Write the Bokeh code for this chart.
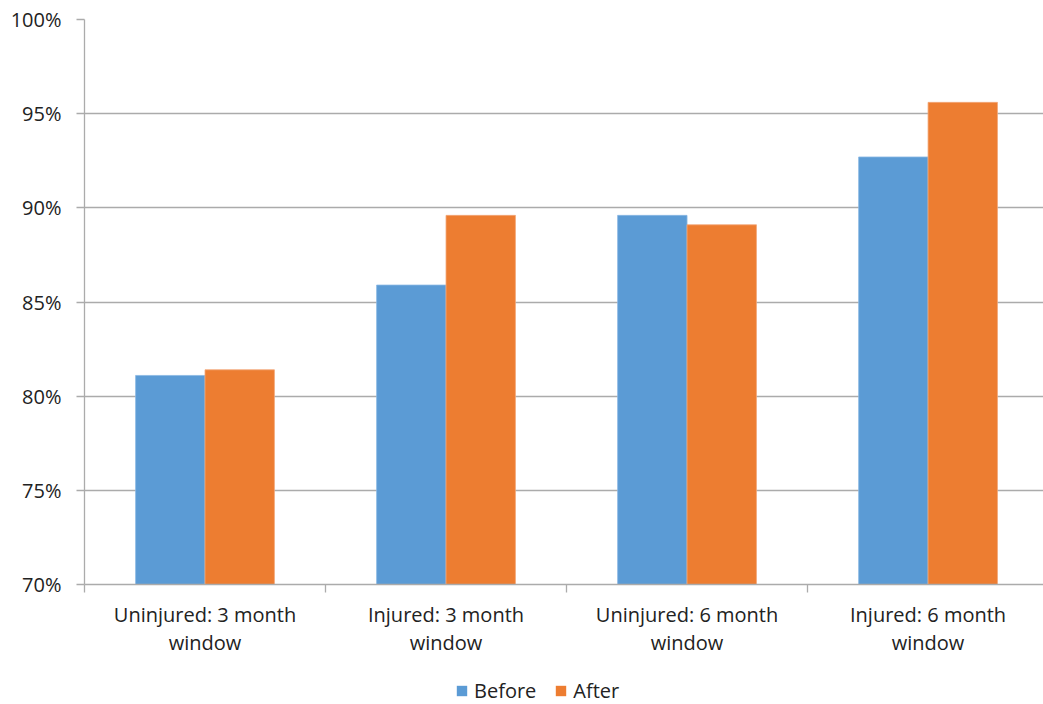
from bokeh.plotting import figure
from bokeh.models import (ColumnDataSource, FixedTicker, NumeralTickFormatter,
                          Range1d, Legend, LegendItem)
from bokeh.layouts import column
from bokeh.embed import file_html
from bokeh.resources import INLINE

categories = ["Uninjured: 3 month\nwindow", "Injured: 3 month\nwindow",
              "Uninjured: 6 month\nwindow", "Injured: 6 month\nwindow"]
before = [0.811, 0.859, 0.896, 0.927]
after = [0.814, 0.896, 0.891, 0.956]
series_names = ["Before", "After"]
y_ticks = [0.70, 0.75, 0.80, 0.85, 0.90, 0.95, 1.00]

BLUE = "#5b9bd5"
ORANGE = "#ed7d31"
GRID = "#ababab"
TEXT = "#222222"
FONT = "Open Sans"

n = len(categories)
centers = [i + 0.5 for i in range(n)]
bw = 0.288

src_b = ColumnDataSource(dict(x=[c - bw / 2 for c in centers], top=before))
src_a = ColumnDataSource(dict(x=[c + bw / 2 for c in centers], top=after))

p = figure(frame_width=959, frame_height=565, output_backend="svg",
           toolbar_location=None,
           x_range=Range1d(0, 3.979), y_range=Range1d(0.70, 1.00),
           min_border_left=84, min_border_right=0, min_border_top=19,
           min_border_bottom=76)
p.outline_line_color = None
p.background_fill_color = "white"
p.border_fill_color = "white"

p.vbar(x="x", top="top", bottom=0.70, width=bw, source=src_b,
       fill_color=BLUE, line_color="#8ab8e3", line_width=0.8)
p.vbar(x="x", top="top", bottom=0.70, width=bw, source=src_a,
       fill_color=ORANGE, line_color="#f3a779", line_width=0.8)

# y axis
p.yaxis.ticker = FixedTicker(ticks=y_ticks)
p.yaxis.formatter = NumeralTickFormatter(format="0%")
p.yaxis.axis_line_color = GRID
p.yaxis.axis_line_width = 1.3
p.yaxis.major_tick_line_color = GRID
p.yaxis.major_tick_line_width = 1.3
p.yaxis.major_tick_out = 8
p.yaxis.major_tick_in = 0
p.yaxis.minor_tick_line_color = None
p.yaxis.major_label_standoff = 15
p.yaxis.major_label_text_font = FONT
p.yaxis.major_label_text_font_size = "20px"
p.yaxis.major_label_text_color = TEXT

p.ygrid.ticker = FixedTicker(ticks=y_ticks)
p.ygrid.grid_line_color = GRID
p.ygrid.grid_line_width = 1.3
p.xgrid.grid_line_color = None

# x axis
p.xaxis.ticker = FixedTicker(ticks=centers, minor_ticks=[0, 1, 2, 3, 4])
p.xaxis.major_label_overrides = {c: lab for c, lab in zip(centers, categories)}
p.xaxis.axis_line_color = GRID
p.xaxis.axis_line_width = 1.3
p.xaxis.major_tick_line_color = None
p.xaxis.major_tick_out = 0
p.xaxis.major_tick_in = 0
p.xaxis.minor_tick_line_color = GRID
p.xaxis.minor_tick_line_width = 1.3
p.xaxis.minor_tick_out = 8
p.xaxis.minor_tick_in = 0
p.xaxis.major_label_standoff = 8
p.xaxis.major_label_text_font = FONT
p.xaxis.major_label_text_font_size = "20px"
p.xaxis.major_label_text_color = TEXT
p.xaxis.major_label_text_line_height = 1.05

# legend strip
lg = figure(width=1043, height=44, output_backend="svg", toolbar_location=None,
            x_range=Range1d(0, 1), y_range=Range1d(0, 1),
            min_border_left=0, min_border_right=0, min_border_top=0,
            min_border_bottom=0)
lg.axis.visible = False
lg.grid.grid_line_color = None
lg.outline_line_color = None
dummy = ColumnDataSource(dict(x=[-5.0], top=[-5.0]))
gb = lg.vbar(x="x", top="top", bottom=-6.0, width=0.1, source=dummy,
             fill_color=BLUE, line_color=None)
ga = lg.vbar(x="x", top="top", bottom=-6.0, width=0.1, source=dummy,
             fill_color=ORANGE, line_color=None)
legend = Legend(items=[LegendItem(label=series_names[0], renderers=[gb]),
                       LegendItem(label=series_names[1], renderers=[ga])],
                orientation="horizontal", location=(371, 0),
                glyph_width=13, glyph_height=13, label_standoff=6, spacing=18,
                label_text_font=FONT, label_text_font_size="20px",
                label_text_color=TEXT, border_line_color=None,
                background_fill_alpha=0, padding=0, margin=0)
lg.add_layout(legend)

layout = column(p, lg, spacing=0)
open("out.html", "w").write(file_html(layout, INLINE))
